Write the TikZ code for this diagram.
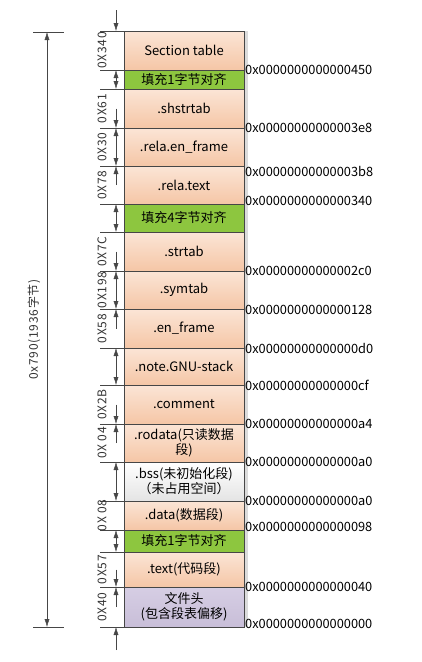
\documentclass[tikz,border=0pt]{standalone}
\usepackage{fontspec}
\setmainfont{Noto Sans CJK SC}
\newfontfamily\dimfont[LetterSpace=6]{Noto Sans CJK SC}
\usetikzlibrary{positioning,arrows.meta,calc,shadows}

\definecolor{peachtop}{RGB}{251,229,214}
\definecolor{peachbot}{RGB}{245,198,166}
\definecolor{padgreen}{RGB}{141,198,63}
\definecolor{headtop}{RGB}{214,206,228}
\definecolor{headbot}{RGB}{200,190,216}
\definecolor{bsstop}{RGB}{255,255,255}
\definecolor{bssbot}{RGB}{228,228,228}
\definecolor{lineg}{RGB}{70,70,70}

\begin{document}
\begin{tikzpicture}[
  x=1pt, y=-1pt,
  node distance=0pt,
  seg/.style={
    draw=lineg,
    outer sep=0pt,
    inner sep=1pt,
    minimum width=120pt,
    align=center,
    font=\fontsize{13}{15}\selectfont,
    general shadow={fill=black!14, shadow xshift=3.5pt, shadow yshift=0pt}
  },
  peach/.style={seg, top color=peachtop, bottom color=peachbot},
  pad/.style={seg, fill=padgreen},
  bss/.style={seg, top color=bsstop, bottom color=bssbot},
  fhead/.style={seg, top color=headtop, bottom color=headbot},
  addr/.style={anchor=west, inner sep=1pt, font=\fontsize{12.8}{14}\selectfont},
  dimlbl/.style={rotate=90, inner sep=0pt, text=black!80, font=\dimfont\fontsize{12}{13}\selectfont},
  dim/.style={draw=lineg, thin},
  ext/.style={draw=lineg, thin},
  tip/.style={-{Latex[length=8pt,width=5pt]}},
  tips/.style={{Latex[length=8pt,width=5pt]}-{Latex[length=8pt,width=5pt]}}
]

% --------------------
% Sections, top to bottom
% --------------------
\useasboundingbox (0,0) rectangle (421,662);
\node[peach, minimum height=39pt] (sectab) at (184,50.5) {Section table};
\node[pad, minimum height=19pt, below=of sectab] (pad1) {填充1字节对齐};
\node[peach, minimum height=39pt, below=of pad1] (shstr) {.shstrtab};
\node[peach, minimum height=38pt, below=of shstr] (relaen) {.rela.en\_frame};
\node[peach, minimum height=38pt, below=of relaen] (relatext) {.rela.text};
\node[pad, minimum height=28pt, below=of relatext] (pad4) {填充4字节对齐};
\node[peach, minimum height=39pt, below=of pad4] (strtab) {.strtab};
\node[peach, minimum height=38pt, below=of strtab] (symtab) {.symtab};
\node[peach, minimum height=39pt, below=of symtab] (enframe) {.en\_frame};
\node[peach, minimum height=37pt, below=of enframe] (gnustack) {.note.GNU-stack};
\node[peach, minimum height=39pt, below=of gnustack] (comment) {.comment};
\node[peach, minimum height=38pt, below=of comment] (rodata) {.rodata(只读数据\\段)};
\node[bss, minimum height=39pt, below=of rodata] (bss) {.bss(未初始化段)\\（未占用空间）};
\node[peach, minimum height=29pt, below=of bss] (data) {.data(数据段)};
\node[pad, minimum height=22pt, below=of data] (pad1b) {填充1字节对齐};
\node[peach, minimum height=35pt, below=of pad1b] (text) {.text(代码段)};
\node[fhead, minimum height=40pt, below=of text] (head) {文件头\\(包含段表偏移)};

% --------------------
% Offsets
% --------------------
\node[addr] (a450) at (sectab.south east) {0x0000000000000450};
\node[addr] (a3e8) at (shstr.south east) {0x00000000000003e8};
\node[addr, yshift=-5pt] (a3b8) at (relaen.south east) {0x00000000000003b8};
\node[addr, yshift=3pt] (a340) at (relatext.south east) {0x0000000000000340};
\node[addr] (a2c0) at (strtab.south east) {0x00000000000002c0};
\node[addr, yshift=-1pt] (a128) at (symtab.south east) {0x0000000000000128};
\node[addr] (ad0) at (enframe.south east) {0x00000000000000d0};
\node[addr] (acf) at (gnustack.south east) {0x00000000000000cf};
\node[addr] (aa4) at (comment.south east) {0x00000000000000a4};
\node[addr] (aa0) at (rodata.south east) {0x00000000000000a0};
\node[addr] (aa0b) at (bss.south east) {0x00000000000000a0};
\node[addr, yshift=3pt] (a98) at (data.south east) {0x0000000000000098};
\node[addr] (a40) at (text.south east) {0x0000000000000040};
\node[addr, yshift=3pt] (a0) at (head.south east) {0x0000000000000000};

% --------------------
% Size of each section
% --------------------
\draw[ext] ([xshift=-24pt]sectab.north west) -- (sectab.north west);
\foreach \n in {sectab,pad1,shstr,relaen,relatext,pad4,strtab,symtab,enframe,gnustack,comment,rodata,bss,data,pad1b,text,head}
  \draw[ext] ([xshift=-24pt]\n.south west) -- (\n.south west);

\draw[dim, tip] ([xshift=-8pt,yshift=21pt]sectab.north west) -- ([xshift=-8pt]sectab.north west);
\draw[dim, tips] ([xshift=-8pt]pad1.north west) -- ([xshift=-8pt]pad1.south west);
\draw[dim, tip] ([xshift=-8pt]shstr.west) -- ([xshift=-8pt]shstr.south west);
\draw[dim, tips] ([xshift=-8pt]relaen.north west) -- ([xshift=-8pt]relaen.south west);
\draw[dim, tip] ([xshift=-8pt]relatext.west) -- ([xshift=-8pt]relatext.north west);
\draw[dim, tips] ([xshift=-8pt]pad4.north west) -- ([xshift=-8pt]pad4.south west);
\draw[dim, tip] ([xshift=-8pt]strtab.west) -- ([xshift=-8pt]strtab.south west);
\draw[dim, tips] ([xshift=-8pt]symtab.north west) -- ([xshift=-8pt]symtab.south west);
\draw[dim, tip] ([xshift=-8pt]enframe.west) -- ([xshift=-8pt]enframe.north west);
\draw[dim, tips] ([xshift=-8pt]gnustack.north west) -- ([xshift=-8pt]gnustack.south west);
\draw[dim, tip] ([xshift=-8pt]comment.west) -- ([xshift=-8pt]comment.south west);
\draw[dim, tip] ([xshift=-8pt]rodata.west) -- ([xshift=-8pt]rodata.north west);
\draw[dim, tips] ([xshift=-8pt]bss.north west) -- ([xshift=-8pt]bss.south west);
\draw[dim, tips] ([xshift=-8pt]pad1b.north west) -- ([xshift=-8pt]pad1b.south west);
\draw[dim, tip] ([xshift=-8pt]text.west) -- ([xshift=-8pt]text.south west);
\draw[dim, tip] ([xshift=-8pt]head.west) -- ([xshift=-8pt]head.north west);
\draw[dim, tip] ([xshift=-8pt,yshift=-23pt]head.south west) -- ([xshift=-8pt]head.south west);

\node[dimlbl] (lsectab) at ([xshift=-22pt]sectab.west) {0X340};
\node[dimlbl] (lshstr) at ([xshift=-22pt]shstr.west) {0X61};
\node[dimlbl] (lrelaen) at ([xshift=-22pt]relaen.west) {0X30};
\node[dimlbl] (lrelatext) at ([xshift=-22pt]relatext.west) {0X78};
\node[dimlbl] (lstrtab) at ([xshift=-22pt]strtab.west) {0X7C};
\node[dimlbl] (lsymtab) at ([xshift=-22pt]symtab.west) {0X198};
\node[dimlbl] (lenframe) at ([xshift=-22pt]enframe.west) {0X58};
\node[dimlbl] (lcomment) at ([xshift=-22pt]comment.west) {0X2B};
\node[dimlbl] (lrodata) at ([xshift=-22pt]rodata.west) {0X 04};
\node[dimlbl] (ldata) at ([xshift=-22pt]data.west) {0X 08};
\node[dimlbl] (ltext) at ([xshift=-22pt]text.west) {0X57};
\node[dimlbl] (lhead) at ([xshift=-22pt]head.west) {0X40};

% --------------------
% Whole file
% --------------------
\coordinate (ftop) at ([xshift=-77pt,yshift=-1pt]sectab.north west);
\coordinate (fbot) at ([xshift=-77pt]head.south west);
\draw[ext] ([xshift=-14pt]ftop) -- ([xshift=17pt]ftop);
\draw[ext] ([xshift=-14pt]fbot) -- ([xshift=17pt]fbot);
\draw[dim, tips] (ftop) -- (fbot);
\node[dimlbl] (lfile) at ([xshift=-13pt]$(ftop)!0.5!(fbot)$) {0x790(1936字节)};

\end{tikzpicture}
\end{document}
